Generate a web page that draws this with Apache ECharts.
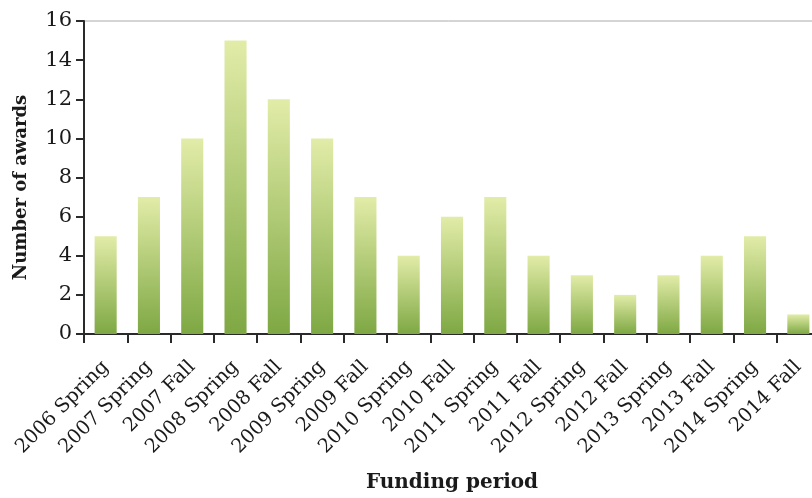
<!DOCTYPE html>
<html><head><meta charset="utf-8">
<script src="https://cdn.jsdelivr.net/npm/echarts@6/dist/echarts.min.js"></script>
<style>html,body{margin:0;padding:0;background:#fff}#c{width:812px;height:498px}</style>
</head><body><div id="c"></div>
<script>
const categories = ["2006 Spring","2007 Spring","2007 Fall","2008 Spring","2008 Fall","2009 Spring","2009 Fall","2010 Spring","2010 Fall","2011 Spring","2011 Fall","2012 Spring","2012 Fall","2013 Spring","2013 Fall","2014 Spring","2014 Fall"];
const awards = [5,7,10,15,12,10,7,4,6,7,4,3,2,3,4,5,1];
const yTicks = [0,2,4,6,8,10,12,14,16];

const font = "DejaVu Serif";
const chart = echarts.init(document.getElementById('c'));
chart.setOption({
  animation:false,
  grid:{left:84, top:21, width:736, height:313, show:true, borderColor:'#aaaaaa', borderWidth:1, containLabel:false, outerBoundsMode:'none'},
  xAxis:{type:'category', data:categories,
    axisLine:{lineStyle:{color:'#2a2a2a', width:2}},
    axisTick:{show:true, length:9, lineStyle:{color:'#2a2a2a', width:2}},
    axisLabel:{rotate:45, fontFamily:font, fontSize:19.5, color:'#1a1a1a', margin:30, interval:0},
    name:'Funding period', nameLocation:'middle', nameGap:139,
    nameTextStyle:{fontFamily:font, fontWeight:'bold', fontSize:20, color:'#1a1a1a', padding:[0,0,0,0]}
  },
  yAxis:{type:'value', min:yTicks[0], max:yTicks[yTicks.length-1], interval:2,
    axisLine:{show:true, lineStyle:{color:'#2a2a2a', width:2}},
    axisTick:{show:true, length:8, lineStyle:{color:'#2a2a2a', width:2}},
    splitLine:{show:false},
    axisLabel:{fontFamily:font, fontSize:21, color:'#1a1a1a', margin:12},
    name:'Number of awards', nameLocation:'middle', nameGap:54, nameRotate:90,
    nameTextStyle:{fontFamily:font, fontWeight:'bold', fontSize:18, color:'#1a1a1a', padding:[0,20,0,0]}
  },
  series:[{type:'bar', data:awards, barWidth:'51%',
    itemStyle:{color:new echarts.graphic.LinearGradient(0,0,0,1,[{offset:0,color:'#e2eca8'},{offset:1,color:'#7ea843'}])}
  }]
});
</script></body></html>
